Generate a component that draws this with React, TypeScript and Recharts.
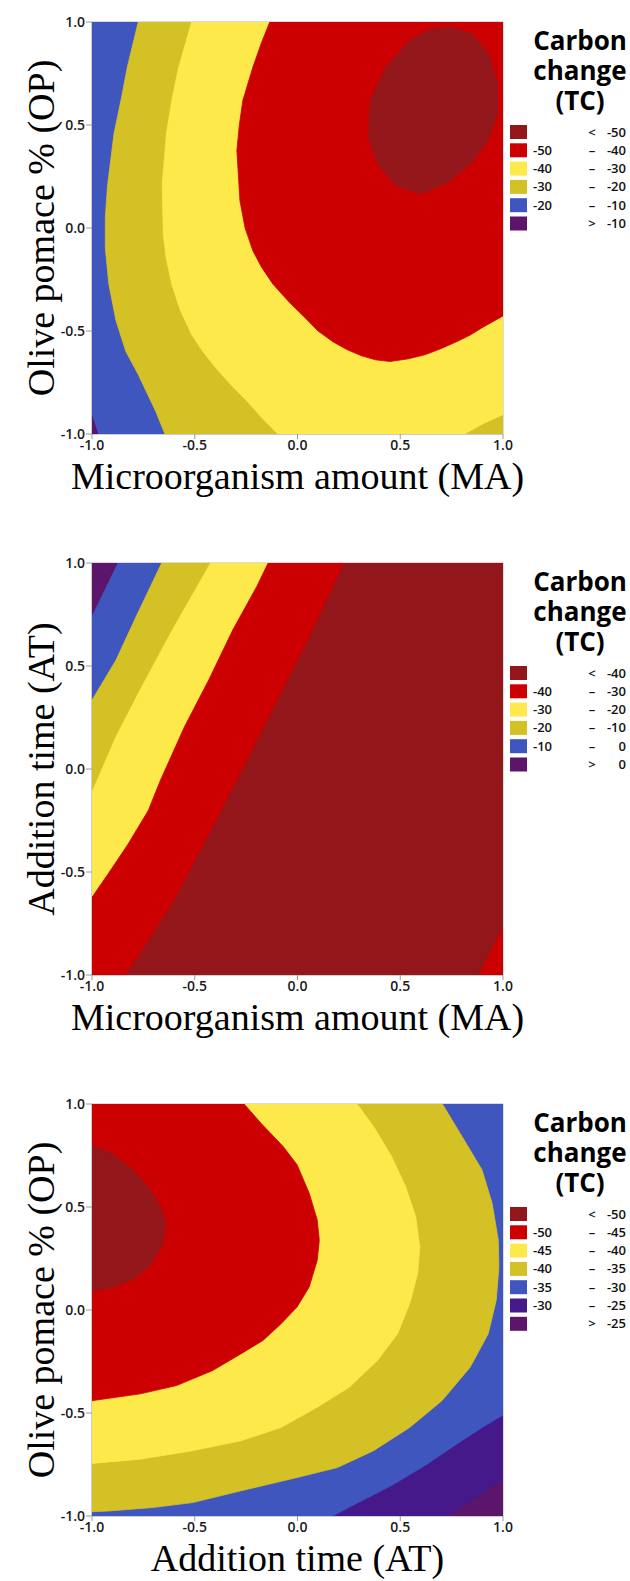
import React from 'react';
import { ScatterChart, Scatter, XAxis, YAxis, ReferenceLine } from 'recharts';

// ---------- colours ----------
const DARKRED = '#93161A';
const RED = '#CC0000';
const YELLOW = '#FEE94B';
const OLIVE = '#D4C126';
const BLUE = '#3F56BE';
const INDIGO = '#45198A';
const PURPLE = '#5B156A';

// ---------- axis ticks ----------
const axisTicks = [-1, -0.5, 0, 0.5, 1];

type Pt = [number, number];
const full: Pt[] = [[-1, -1], [-1, 1], [1, 1], [1, -1]];

// ---------- Plot 1: MA (x) vs OP (y) ----------
const p1Below20: Pt[] = [[-0.775, 1], [1, 1], [1, -1], [-0.645, -1], [-0.69, -0.89], [-0.775, -0.711], [-0.835, -0.6], [-0.883, -0.45], [-0.918, -0.273], [-0.935, -0.1], [-0.935, 0.05], [-0.925, 0.2], [-0.893, 0.457], [-0.855, 0.64], [-0.828, 0.781]];
const p1Above10: Pt[] = [[-1, -1], [-1, -0.914], [-0.971, -1]];
const p1Below30: Pt[] = [[-0.515, 1], [1, 1], [1, -1], [-0.095, -1], [-0.17, -0.925], [-0.245, -0.841], [-0.325, -0.76], [-0.398, -0.679], [-0.46, -0.6], [-0.515, -0.517], [-0.57, -0.4], [-0.612, -0.273], [-0.64, -0.14], [-0.653, -0.03], [-0.658, 0.213], [-0.638, 0.457], [-0.61, 0.63], [-0.578, 0.781]];
const p1Corner: Pt[] = [[0.82, -1], [0.9, -0.955], [1, -0.91], [1, -1]];
const p1Below40: Pt[] = [[-0.135, 1], [1, 1], [1, -0.427], [0.95, -0.455], [0.898, -0.484], [0.84, -0.52], [0.781, -0.549], [0.7, -0.585], [0.624, -0.614], [0.54, -0.635], [0.45, -0.648], [0.38, -0.64], [0.311, -0.62], [0.24, -0.59], [0.174, -0.553], [0.1, -0.5], [0.037, -0.436], [-0.04, -0.36], [-0.119, -0.273], [-0.175, -0.19], [-0.217, -0.111], [-0.255, 0.0], [-0.28, 0.132], [-0.295, 0.376], [-0.283, 0.5], [-0.266, 0.619], [-0.217, 0.781], [-0.175, 0.9]];
const p1Below50: Pt[] = [[0.74, 0.976], [0.85, 0.943], [0.93, 0.846], [0.973, 0.7], [0.973, 0.554], [0.928, 0.424], [0.84, 0.311], [0.73, 0.221], [0.6, 0.165], [0.48, 0.205], [0.39, 0.311], [0.345, 0.44], [0.354, 0.619], [0.429, 0.781], [0.546, 0.911], [0.644, 0.963]];

// ---------- Plot 2: MA (x) vs AT (y) ----------
const p2Below0: Pt[] = [[-0.873, 1], [1, 1], [1, -1], [-1, -1], [-1, 0.74]];
const p2Below10: Pt[] = [[-0.661, 1], [1, 1], [1, -1], [-1, -1], [-1, 0.334], [-0.883, 0.529], [-0.785, 0.74]];
const p2Below20: Pt[] = [[-0.423, 1], [1, 1], [1, -1], [-1, -1], [-1, -0.112], [-0.883, 0.156], [-0.775, 0.367], [-0.609, 0.675]];
const p2Below30: Pt[] = [[-0.143, 1], [1, 1], [1, -1], [-1, -1], [-1, -0.623], [-0.922, -0.51], [-0.824, -0.364], [-0.726, -0.201], [-0.667, -0.055], [-0.55, 0.205], [-0.432, 0.432], [-0.315, 0.675], [-0.198, 0.886]];
const p2Below40: Pt[] = [[0.229, 1], [1, 1], [1, -0.761], [0.879, -1], [-0.834, -1], [-0.609, -0.656], [-0.393, -0.25], [-0.178, 0.172], [0.037, 0.594]];

// ---------- Plot 3: AT (x) vs OP (y) ----------
const p3Below25: Pt[] = [[-1, 1], [1, 1], [1, -0.821], [0.86, -0.915], [0.732, -1], [-1, -1]];
const p3Below30: Pt[] = [[-1, 1], [1, 1], [1, -0.51], [0.898, -0.57], [0.761, -0.66], [0.624, -0.752], [0.468, -0.846], [0.311, -0.927], [0.17, -1], [-1, -1]];
const p3Below35: Pt[] = [[-1, 1], [0.705, 1], [0.8, 0.843], [0.898, 0.68], [0.947, 0.518], [0.977, 0.339], [0.98, 0.209], [0.967, 0.047], [0.928, -0.115], [0.84, -0.278], [0.703, -0.44], [0.546, -0.57], [0.37, -0.683], [0.194, -0.765], [-0.002, -0.813], [-0.276, -0.878], [-0.511, -0.935], [-0.706, -0.959], [-0.922, -0.976], [-1, -0.979]];
const p3Below40: Pt[] = [[-1, 1], [0.29, 1], [0.37, 0.891], [0.458, 0.745], [0.526, 0.599], [0.575, 0.453], [0.595, 0.307], [0.585, 0.177], [0.546, 0.031], [0.487, -0.115], [0.389, -0.245], [0.252, -0.375], [0.096, -0.472], [-0.08, -0.57], [-0.276, -0.635], [-0.511, -0.683], [-0.765, -0.724], [-1, -0.745]];
const p3Below45: Pt[] = [[-1, 1], [-0.26, 1], [-0.178, 0.907], [-0.07, 0.794], [-0.002, 0.705], [0.057, 0.567], [0.096, 0.437], [0.106, 0.339], [0.096, 0.242], [0.057, 0.112], [-0.002, 0.015], [-0.08, -0.067], [-0.168, -0.148], [-0.276, -0.213], [-0.413, -0.294], [-0.589, -0.367], [-0.765, -0.407], [-1, -0.44]];
const p3Below50: Pt[] = [[-1, 0.8], [-0.9, 0.76], [-0.8, 0.68], [-0.72, 0.59], [-0.667, 0.5], [-0.64, 0.42], [-0.655, 0.32], [-0.72, 0.215], [-0.8, 0.15], [-0.9, 0.11], [-1, 0.09]];

// ---------- legends ----------
const legend1Low = ['', '-50', '-40', '-30', '-20', ''];
const legend1Sym = ['<', '\u2013', '\u2013', '\u2013', '\u2013', '>'];
const legend1High = ['-50', '-40', '-30', '-20', '-10', '-10'];
const legend1Colors = [DARKRED, RED, YELLOW, OLIVE, BLUE, PURPLE];

const legend2Low = ['', '-40', '-30', '-20', '-10', ''];
const legend2Sym = ['<', '\u2013', '\u2013', '\u2013', '\u2013', '>'];
const legend2High = ['-40', '-30', '-20', '-10', '0', '0'];
const legend2Colors = [DARKRED, RED, YELLOW, OLIVE, BLUE, PURPLE];

const legend3Low = ['', '-50', '-45', '-40', '-35', '-30', ''];
const legend3Sym = ['<', '\u2013', '\u2013', '\u2013', '\u2013', '\u2013', '>'];
const legend3High = ['-50', '-45', '-40', '-35', '-30', '-25', '-25'];
const legend3Colors = [DARKRED, RED, YELLOW, OLIVE, BLUE, INDIGO, PURPLE];

const legendTitle = ['Carbon', 'change', '(TC)'];

type Layer = { pts: Pt[]; color: string };

const panel1Layers: Layer[] = [
  { pts: full, color: BLUE },
  { pts: p1Above10, color: PURPLE },
  { pts: p1Below20, color: OLIVE },
  { pts: p1Below30, color: YELLOW },
  { pts: p1Corner, color: OLIVE },
  { pts: p1Below40, color: RED },
  { pts: p1Below50, color: DARKRED },
];
const panel2Layers: Layer[] = [
  { pts: full, color: PURPLE },
  { pts: p2Below0, color: BLUE },
  { pts: p2Below10, color: OLIVE },
  { pts: p2Below20, color: YELLOW },
  { pts: p2Below30, color: RED },
  { pts: p2Below40, color: DARKRED },
];
const panel3Layers: Layer[] = [
  { pts: full, color: PURPLE },
  { pts: p3Below25, color: INDIGO },
  { pts: p3Below30, color: BLUE },
  { pts: p3Below35, color: OLIVE },
  { pts: p3Below40, color: YELLOW },
  { pts: p3Below45, color: RED },
  { pts: p3Below50, color: DARKRED },
];

// ---------- drawing helpers ----------
const Poly = (props: any) => {
  const pts = props.points || [];
  if (!pts.length) return <g />;
  const d = pts.map((p: any, i: number) => `${i ? 'L' : 'M'}${p.x},${p.y}`).join('') + 'Z';
  return <path d={d} fill={props.c} stroke={props.c} strokeWidth={0.8} strokeLinejoin="round" />;
};
const NoDot = () => <g />;

const W = 630;
const H = 541;
const PLOT_TOP = 22;
const PLOT_LEFT = 92;
const PLOT_RIGHT = 503;
const PLOT_H = 412;
const YAXIS_W = 60;
const XAXIS_H = 60;

const tickStyle = { fill: '#1a1a1a', fontSize: 14, fontWeight: 600, fontFamily: "'Open Sans', 'Noto Sans', sans-serif" };
const serif = "'Times New Roman', 'Liberation Serif', serif";
const sans = "'Open Sans', 'Noto Sans', sans-serif";

type PanelProps = {
  layers: Layer[];
  xTitle: string;
  yTitle: string;
  low: string[];
  sym: string[];
  high: string[];
  colors: string[];
};

const Panel = ({ layers, xTitle, yTitle, low, sym, high, colors }: PanelProps) => {
  const bottomMargin = H - PLOT_TOP - PLOT_H - XAXIS_H;
  const cx = (PLOT_LEFT + PLOT_RIGHT) / 2;
  const cy = PLOT_TOP + PLOT_H / 2;
  return (
    <div style={{ position: 'relative', width: W, height: H }}>
      <ScatterChart
        width={W}
        height={H}
        margin={{ top: PLOT_TOP, right: W - PLOT_RIGHT, bottom: bottomMargin, left: PLOT_LEFT - YAXIS_W }}
      >
        <XAxis
          dataKey="x"
          type="number"
          domain={[-1, 1]}
          ticks={axisTicks}
          allowDataOverflow
          height={XAXIS_H}
          tickFormatter={(v: number) => v.toFixed(1)}
          tick={tickStyle}
          tickSize={5}
          tickMargin={1}
          axisLine={{ stroke: '#9a9a9a' }}
          tickLine={{ stroke: '#9a9a9a' }}
          interval={0}
        />
        <YAxis
          dataKey="y"
          type="number"
          domain={[-1, 1]}
          ticks={axisTicks}
          allowDataOverflow
          width={YAXIS_W}
          tickFormatter={(v: number) => v.toFixed(1)}
          tick={tickStyle}
          tickSize={6}
          tickMargin={1}
          axisLine={{ stroke: '#9a9a9a' }}
          tickLine={{ stroke: '#9a9a9a' }}
          interval={0}
        />
        {layers.map((l, i) => (
          <Scatter
            key={i}
            data={l.pts.map(([x, y]) => ({ x, y }))}
            line={<Poly c={l.color} />}
            lineType="joint"
            shape={<NoDot />}
            isAnimationActive={false}
            legendType="none"
          />
        ))}
        <ReferenceLine y={1} stroke="#9a9a9a" strokeOpacity={0.7} ifOverflow="visible" />
        <ReferenceLine x={1} stroke="#9a9a9a" strokeOpacity={0.7} ifOverflow="visible" />
      </ScatterChart>
      <div
        style={{
          position: 'absolute',
          left: 528,
          top: PLOT_TOP + 3,
          width: 104,
          textAlign: 'center',
          fontFamily: sans,
          fontWeight: 700,
          fontSize: 26,
          lineHeight: '30px',
          color: '#000',
          whiteSpace: 'nowrap',
        }}
      >
        {legendTitle.map((t, i) => (
          <React.Fragment key={t}>
            {i > 0 && <br />}
            {t}
          </React.Fragment>
        ))}
      </div>
      <svg width={W} height={H} style={{ position: 'absolute', left: 0, top: 0, pointerEvents: 'none' }}>
        <text
          transform={`translate(54, ${cy}) rotate(-90)`}
          textAnchor="middle"
          fontFamily={serif}
          fontSize={38}
          fill="#000"
        >
          {yTitle}
        </text>
        <text x={cx} y={PLOT_TOP + PLOT_H + 55} textAnchor="middle" fontFamily={serif} fontSize={38} fill="#000">
          {xTitle}
        </text>
        {colors.map((c, i) => {
          const top = PLOT_TOP + 103 + i * 18.3;
          const mid = top + 7;
          return (
            <g key={i}>
              <rect x={510} y={top} width={17} height={14} fill={c} />
              <text x={533} y={mid + 4.5} fontFamily={sans} fontSize={13} fontWeight={600} fill="#111">
                {low[i]}
              </text>
              <text x={592} y={mid + 4.5} textAnchor="middle" fontFamily={sans} fontSize={13} fontWeight={600} fill="#111">
                {sym[i]}
              </text>
              <text x={626} y={mid + 4.5} textAnchor="end" fontFamily={sans} fontSize={13} fontWeight={600} fill="#111">
                {high[i]}
              </text>
            </g>
          );
        })}
      </svg>
    </div>
  );
};

export default function App() {
  return (
    <div style={{ position: 'absolute', left: 0, top: 0, width: W, height: 1581, background: '#fff' }}>
      <Panel
        layers={panel1Layers}
        xTitle="Microorganism amount (MA)"
        yTitle="Olive pomace % (OP)"
        low={legend1Low}
        sym={legend1Sym}
        high={legend1High}
        colors={legend1Colors}
      />
      <Panel
        layers={panel2Layers}
        xTitle="Microorganism amount (MA)"
        yTitle="Addition time (AT)"
        low={legend2Low}
        sym={legend2Sym}
        high={legend2High}
        colors={legend2Colors}
      />
      <Panel
        layers={panel3Layers}
        xTitle="Addition time (AT)"
        yTitle="Olive pomace % (OP)"
        low={legend3Low}
        sym={legend3Sym}
        high={legend3High}
        colors={legend3Colors}
      />
    </div>
  );
}
